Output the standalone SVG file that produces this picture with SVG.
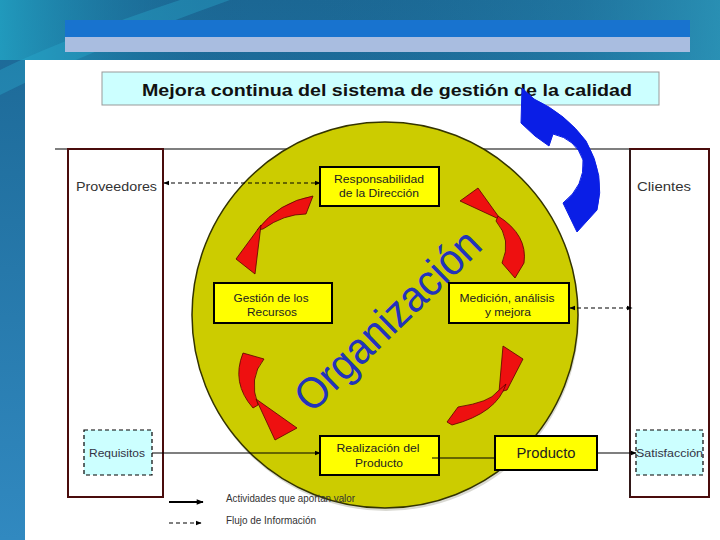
<svg xmlns="http://www.w3.org/2000/svg" width="720" height="540" viewBox="0 0 720 540">
<defs>
<linearGradient id="bg" x1="0" y1="0" x2="0" y2="1">
<stop offset="0" stop-color="#1b6794"/>
<stop offset="1" stop-color="#3189c0"/>
</linearGradient>
<linearGradient id="sheen" x1="0" y1="0" x2="1" y2="0">
<stop offset="0" stop-color="#22a6c6" stop-opacity="0.8"/>
<stop offset="0.35" stop-color="#1a5f8c" stop-opacity="0"/>
<stop offset="0.8" stop-color="#2a93b8" stop-opacity="0.3"/>
<stop offset="1" stop-color="#2fa0c0" stop-opacity="0.7"/>
</linearGradient>
<marker id="ah" viewBox="0 0 10 10" refX="9" refY="5" markerWidth="6" markerHeight="6" orient="auto-start-reverse" markerUnits="userSpaceOnUse">
<path d="M0,1 L10,5 L0,9 Z" fill="#000"/>
</marker>
<marker id="ahb" viewBox="0 0 10 10" refX="9" refY="5" markerWidth="8" markerHeight="7" orient="auto" markerUnits="userSpaceOnUse">
<path d="M0,1 L10,5 L0,9 Z" fill="#000"/>
</marker>
</defs>
<style>
.t{font-family:"Liberation Sans",Arial,sans-serif;}
.box{fill:#ffff00;stroke:#000;stroke-width:2;}
.bt{font-size:11.5px;fill:#222;text-anchor:middle;}
.lane{fill:#fff;stroke:#4a0c0c;stroke-width:2;}
.dbox{fill:#ccffff;stroke:#000;stroke-width:1.2;stroke-dasharray:4,3;}
.red{fill:#ee1010;stroke:#5a0000;stroke-width:0.8;}
.solid{stroke:#000;stroke-width:1.2;fill:none;}
.dash{stroke:#000;stroke-width:1.2;fill:none;stroke-dasharray:4,3;}
</style>
<!-- background -->
<rect x="0" y="0" width="720" height="540" fill="url(#bg)"/>
<rect x="0" y="0" width="720" height="60" fill="url(#sheen)"/>
<path d="M0,70 Q60,40 180,0 L230,0 Q90,50 0,95 Z" fill="#2aaed0" opacity="0.35"/>
<rect x="65" y="20" width="625" height="17" fill="#1873cf"/>
<rect x="65" y="37" width="625" height="15" fill="#a9bde0"/>
<rect x="25" y="60" width="695" height="480" fill="#fff"/>

<!-- title -->
<g id="title">
<rect x="102" y="72" width="557" height="33" fill="#ccffff" stroke="#999" stroke-width="1"/>
<text class="t" x="387" y="96" font-size="17" font-weight="bold" text-anchor="middle" fill="#111" textLength="490" lengthAdjust="spacingAndGlyphs">Mejora continua del sistema de gestión de la calidad</text>
</g>

<!-- lanes -->
<line x1="55" y1="149" x2="709" y2="149" stroke="#000" stroke-width="1.2"/>
<g id="proveedores">
<rect class="lane" x="68" y="149" width="95" height="348"/>
<text class="t" x="76" y="191" font-size="13.5" fill="#333" textLength="81" lengthAdjust="spacingAndGlyphs">Proveedores</text>
</g>
<g id="clientes">
<rect class="lane" x="630" y="149" width="79" height="348"/>
<line x1="630" y1="149" x2="630" y2="497" stroke="#222" stroke-width="1.2"/>
<text class="t" x="637" y="191" font-size="13.5" fill="#333" textLength="54" lengthAdjust="spacingAndGlyphs">Clientes</text>
</g>

<!-- organization circle -->
<g id="organizacion">
<circle cx="386" cy="318" r="193" fill="#a0a090" opacity="0.4"/>
<circle cx="385" cy="315" r="193" fill="#cccc00" stroke="#333300" stroke-width="1.5"/>
<text class="t" x="398" y="331" font-size="44" fill="#2233bb" text-anchor="middle" transform="rotate(-44 398 331)" textLength="240" lengthAdjust="spacingAndGlyphs">Organización</text>
</g>

<!-- red cycle arrows -->
<g id="ciclo">
<path class="red" d="M313,196 Q279,202 257,230 L263,229 Q284,214 306,214 Z"/>
<path class="red" d="M261,225 L236,259 L255,274 Z"/>
<path class="red" d="M460,201 L478,188 L501,220 Z"/>
<path class="red" d="M498,216 Q528,235 524,263 L515,278 L502,263 Q512,240 496,221 Z"/>
<path class="red" d="M503,346 L523,359 L507,390 L499,392 Z"/>
<path class="red" d="M506,384 Q497,413 452,425 L447,422 L458,407 Q490,402 497,392 Z"/>
<path class="red" d="M243,353 L264,359 Q248,378 258,405 L253,408 Q231,383 243,353 Z"/>
<path class="red" d="M256,399 L275,440 L297,428 Z"/>
</g>

<!-- blue improvement arrow -->
<g id="mejora">
<path d="M522,88 L534,99 Q566,114 586,141 Q606,176 597,210 L577,232 L563,203 Q585,186 583,160 Q576,139 553,134 L549,146 L535,136 L521,123 Z" fill="#0a1ee6" stroke="#0a1ee6" stroke-width="1"/>
</g>

<!-- process boxes -->
<g id="responsabilidad">
<rect class="box" x="320" y="167" width="119" height="39"/>
<text class="t bt" x="379" y="183" textLength="90" lengthAdjust="spacingAndGlyphs">Responsabilidad</text>
<text class="t bt" x="379" y="197" textLength="80" lengthAdjust="spacingAndGlyphs">de la Dirección</text>
</g>
<g id="recursos">
<rect class="box" x="214" y="283" width="118" height="40"/>
<text class="t bt" x="271" y="302" textLength="75" lengthAdjust="spacingAndGlyphs">Gestión de los</text>
<text class="t bt" x="272" y="316" textLength="50" lengthAdjust="spacingAndGlyphs">Recursos</text>
</g>
<g id="medicion">
<rect class="box" x="449" y="283" width="120" height="40"/>
<text class="t bt" x="507" y="302" textLength="95" lengthAdjust="spacingAndGlyphs">Medición, análisis</text>
<text class="t bt" x="508" y="316" textLength="46" lengthAdjust="spacingAndGlyphs">y mejora</text>
</g>
<g id="realizacion">
<rect class="box" x="320" y="436" width="119" height="39"/>
<text class="t bt" x="378" y="452" textLength="83" lengthAdjust="spacingAndGlyphs">Realización del</text>
<text class="t bt" x="379" y="467" textLength="48" lengthAdjust="spacingAndGlyphs">Producto</text>
</g>
<g id="producto">
<rect class="box" x="495" y="436" width="102" height="34"/>
<text class="t" x="546" y="458" font-size="14.5" fill="#222" text-anchor="middle" textLength="59" lengthAdjust="spacingAndGlyphs">Producto</text>
</g>
<g id="requisitos">
<rect class="dbox" x="84" y="430" width="68" height="45"/>
<text class="t" x="89" y="457" font-size="11" fill="#334" textLength="56" lengthAdjust="spacingAndGlyphs">Requisitos</text>
</g>
<g id="satisfaccion">
<rect class="dbox" x="636" y="430" width="67" height="45"/>
<text class="t" x="636" y="457" font-size="11" fill="#334" textLength="67" lengthAdjust="spacingAndGlyphs">Satisfacción</text>
</g>

<!-- connectors -->
<g id="connectors">
<line class="dash" x1="164" y1="183" x2="320" y2="183" marker-start="url(#ah)" marker-end="url(#ah)"/>
<line class="dash" x1="570" y1="308" x2="632" y2="308" marker-start="url(#ah)" marker-end="url(#ah)"/>
<line class="solid" x1="152" y1="453" x2="320" y2="453" marker-end="url(#ah)"/>
<line class="solid" x1="432" y1="458" x2="495" y2="458"/>
<line class="solid" x1="597" y1="453" x2="636" y2="453" marker-end="url(#ah)"/>
</g>

<!-- legend -->
<g id="leyenda">
<line x1="169" y1="502" x2="203" y2="502" stroke="#000" stroke-width="2" marker-end="url(#ahb)"/>
<text class="t" x="226" y="502" font-size="11" fill="#333" textLength="129" lengthAdjust="spacingAndGlyphs">Actividades que aportan valor</text>
<line class="dash" x1="169" y1="523" x2="201" y2="523" marker-end="url(#ah)"/>
<text class="t" x="226" y="524" font-size="11" fill="#333" textLength="90" lengthAdjust="spacingAndGlyphs">Flujo de Información</text>
</g>
</svg>
